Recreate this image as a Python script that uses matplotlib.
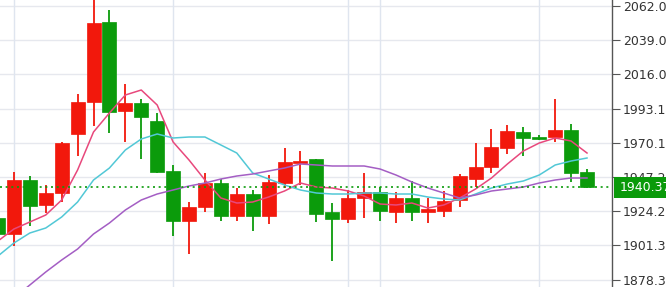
import matplotlib
matplotlib.use("Agg")
import matplotlib.pyplot as plt
from matplotlib.patches import Rectangle
import matplotlib.transforms as mtransforms

# ---- data ----
opens = [1919.70, 1908.96, 1945.21, 1928.43, 1936.48, 1976.09, 1997.56, 2051.26, 1991.52, 1996.89,
         1984.81, 1951.25, 1917.69, 1927.09, 1943.19, 1921.04, 1935.81, 1921.04, 1943.19, 1956.62,
         1959.30, 1923.73, 1919.03, 1933.13, 1937.15, 1923.73, 1933.13, 1923.73, 1924.40, 1931.78,
         1945.88, 1953.93, 1966.69, 1977.43, 1974.07, 1974.07, 1978.77, 1950.58]
highs = [1921.72, 1950.58, 1947.89, 1941.85, 1970.72, 2002.93, 2068.00, 2059.32, 2009.65, 1999.58,
         1990.18, 1955.28, 1930.44, 1949.91, 1945.88, 1939.84, 1938.50, 1948.56, 1966.69, 1964.67,
         1959.50, 1929.77, 1938.50, 1949.91, 1940.51, 1937.15, 1944.54, 1933.13, 1937.83, 1949.24,
         1970.04, 1979.44, 1982.13, 1980.78, 1975.41, 1999.58, 1982.80, 1952.59]
lows = [1906.28, 1900.91, 1914.33, 1923.06, 1930.44, 1961.32, 1981.46, 1976.76, 1970.72, 1959.30,
        1950.00, 1907.62, 1895.54, 1923.73, 1917.69, 1917.69, 1910.98, 1915.67, 1939.84, 1941.85,
        1917.02, 1890.84, 1916.35, 1919.70, 1917.69, 1916.35, 1917.69, 1916.35, 1920.37, 1927.09,
        1940.51, 1949.91, 1962.66, 1961.32, 1972.06, 1970.72, 1943.87, 1940.00]
closes = [1908.96, 1945.21, 1927.76, 1936.48, 1970.04, 1997.56, 2050.59, 1990.85, 1996.89, 1987.50,
          1950.58, 1917.69, 1927.09, 1943.19, 1921.04, 1935.81, 1921.04, 1943.87, 1957.29, 1957.96,
          1922.39, 1919.03, 1933.13, 1937.15, 1924.40, 1933.13, 1923.73, 1925.74, 1931.11, 1947.89,
          1953.93, 1967.36, 1978.10, 1973.40, 1972.73, 1978.77, 1949.91, 1940.37]

ma_fast = [1904.27, 1912.32, 1917.02, 1921.72, 1931.78, 1951.94, 1977.43, 1990.18, 2002.26, 2005.62,
           1995.55, 1970.72, 1958.63, 1945.21, 1933.13, 1929.77, 1930.44, 1933.80, 1937.83, 1943.19,
           1940.51, 1939.84, 1937.83, 1934.47, 1929.10, 1928.43, 1929.77, 1926.41, 1928.43, 1933.13,
           1939.17, 1946.55, 1955.95, 1964.68, 1970.04, 1973.40, 1971.39, 1963.33]
ma_mid = [1894.19, 1902.92, 1909.63, 1912.99, 1920.37, 1930.44, 1945.21, 1953.26, 1965.35, 1972.73,
          1976.09, 1973.40, 1974.07, 1974.07, 1968.71, 1963.33, 1949.91, 1945.88, 1941.85, 1938.50,
          1936.48, 1935.81, 1935.81, 1936.48, 1936.48, 1935.81, 1935.81, 1933.80, 1932.46, 1931.78,
          1935.81, 1939.84, 1942.53, 1944.54, 1948.56, 1955.28, 1957.96, 1959.97]
ma_slow_start = 1
ma_slow = [1866.00, 1874.73, 1883.46, 1891.51, 1898.89, 1908.96, 1916.35, 1925.07, 1931.78,
           1935.81, 1938.50, 1941.18, 1943.19, 1945.88, 1947.89, 1949.24, 1951.25, 1953.26, 1955.95,
           1955.28, 1954.61, 1954.61, 1954.61, 1952.59, 1948.56, 1943.87, 1939.84, 1936.48, 1933.13,
           1935.14, 1937.83, 1939.17, 1940.51, 1943.19, 1945.21, 1946.55, 1946.55]

y_ticks = [1878.35, 1901.31, 1924.26, 1947.22, 1970.17, 1993.13, 2016.09, 2039.04, 2062.00]
v_grid_idx = [1, 11, 22, 24, 34]
last_price = 1940.37

# ---- styles ----
UP = "#f2180c"
DOWN = "#0b9b0b"
C_FAST = "#e8487c"
C_MID = "#52c8d6"
C_SLOW = "#a45ec4"

fig = plt.figure(figsize=(6.66, 2.87), dpi=100)
ax = fig.add_axes([0, 0, 612 / 666, 1])

n = len(opens)
xs = list(range(n))

# grid
for t in y_ticks:
    ax.axhline(t, color="#e6e8ee", lw=1.0, zorder=0)
for gi in v_grid_idx:
    ax.axvline(gi, color="#dfe5ef", lw=1.0, zorder=0)

# candles
for i in xs:
    o, h, l, c = opens[i], highs[i], lows[i], closes[i]
    col = UP if c >= o else DOWN
    ax.vlines(i, l, h, color=col, lw=1.3, zorder=2)
    bot = min(o, c)
    ht = max(abs(c - o), 1.0)
    ax.bar(i, ht, bottom=bot, width=0.88, color=col, edgecolor=col, lw=0.5, zorder=3)

# moving averages
ax.plot(xs, ma_fast, color=C_FAST, lw=1.1, zorder=4)
ax.plot(xs, ma_mid, color=C_MID, lw=1.1, zorder=4)
ax.plot(list(range(ma_slow_start, ma_slow_start + len(ma_slow))), ma_slow, color=C_SLOW, lw=1.1, zorder=4)

# last price dotted line
ax.axhline(last_price, color=DOWN, lw=1.2, ls=(0, (1.2, 2.2)), zorder=5)

ax.set_xlim(0.126, 38.57)
ax.set_ylim(1873.39, 2066.03)

ax.yaxis.tick_right()
ax.set_yticks(y_ticks)
ax.set_yticklabels([f"{t:.2f}" for t in y_ticks])
ax.tick_params(axis="y", length=6, width=0.8, color="#555555", labelsize=9,
               labelcolor="#333333", pad=2)
ax.set_xticks([])
for s in ["left", "top", "bottom"]:
    ax.spines[s].set_visible(False)
ax.spines["right"].set_color("#555555")
ax.spines["right"].set_linewidth(1.0)

# last price label box
trans = mtransforms.blended_transform_factory(ax.transAxes, ax.transData)
box_h = 21 * (2066.03 - 1873.39) / 287
ax.add_patch(Rectangle((614 / 612, last_price - box_h / 2), 0.12, box_h, transform=trans,
                       facecolor="#0a9a0a", edgecolor="none", clip_on=False, zorder=10))
ax.text(620 / 612, last_price, f"{last_price:.2f}", transform=trans, color="white",
        fontsize=9, va="center", ha="left", clip_on=False, zorder=11)

fig.savefig("out.png", dpi=100)
